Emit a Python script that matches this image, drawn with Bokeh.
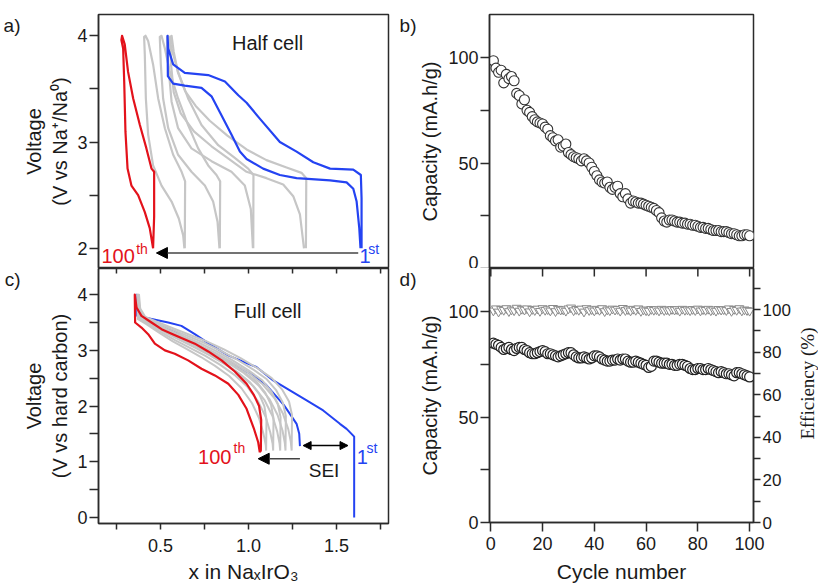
import math
from bokeh.plotting import figure
from bokeh.models import Range1d, LinearAxis, FixedTicker, Label, Arrow, NormalHead
from bokeh.layouts import row, column
from bokeh.embed import file_html
from bokeh.resources import INLINE

# ---------------- data ----------------
# Panel a: half cell, voltage vs x in NaxIrO3
a_blue_ch_x = [1.642, 1.642, 1.638, 1.595, 1.463, 1.368, 1.273, 1.178, 1.064, 0.989, 0.942, 0.866, 0.771, 0.638, 0.572, 0.544, 0.540]
a_blue_ch_v = [2.00, 2.47, 2.69, 2.74, 2.75, 2.81, 2.91, 3.00, 3.22, 3.37, 3.44, 3.57, 3.63, 3.65, 3.73, 3.88, 4.00]
a_blue_dis_x = [0.540, 0.542, 0.572, 0.638, 0.733, 0.790, 0.847, 0.903, 0.951, 0.989, 1.083, 1.178, 1.273, 1.463, 1.557, 1.595, 1.614, 1.629, 1.636]
a_blue_dis_v = [4.00, 3.62, 3.55, 3.53, 3.51, 3.43, 3.25, 3.07, 2.91, 2.84, 2.75, 2.69, 2.66, 2.64, 2.62, 2.56, 2.44, 2.19, 2.00]

a_red_ch_x = [0.458, 0.464, 0.464, 0.449, 0.420, 0.383, 0.345, 0.316, 0.297, 0.282]
a_red_ch_v = [2.00, 2.30, 2.72, 2.75, 2.94, 3.16, 3.41, 3.66, 3.92, 4.00]
a_red_dis_x = [0.282, 0.278, 0.288, 0.294, 0.301, 0.313, 0.335, 0.373, 0.411, 0.439, 0.458]
a_red_dis_v = [4.00, 3.96, 3.88, 3.57, 3.10, 2.75, 2.59, 2.50, 2.34, 2.19, 2.00]

a_g1_x = [0.638, 0.640, 0.620, 0.572, 0.525, 0.487, 0.458, 0.430, 0.415, 0.407, 0.411, 0.417, 0.430, 0.458, 0.506, 0.563, 0.604, 0.629, 0.636]
a_g1_v = [2.00, 2.63, 2.72, 2.88, 3.13, 3.41, 3.73, 3.95, 4.00, 3.99, 3.82, 3.41, 3.07, 2.78, 2.59, 2.44, 2.28, 2.12, 2.00]
a_g2_x = [0.837, 0.839, 0.818, 0.771, 0.714, 0.657, 0.600, 0.553, 0.525, 0.506, 0.496, 0.502, 0.515, 0.544, 0.600, 0.676, 0.752, 0.799, 0.824, 0.835]
a_g2_v = [2.00, 2.63, 2.69, 2.78, 2.94, 3.16, 3.41, 3.66, 3.88, 4.00, 3.99, 3.73, 3.41, 3.13, 2.88, 2.72, 2.59, 2.44, 2.25, 2.00]
a_g3_x = [1.027, 1.028, 0.998, 0.922, 0.828, 0.733, 0.657, 0.600, 0.563, 0.544, 0.538, 0.544, 0.563, 0.600, 0.676, 0.790, 0.903, 0.979, 1.013, 1.025]
a_g3_v = [2.00, 2.69, 2.75, 2.85, 2.97, 3.16, 3.41, 3.66, 3.88, 4.00, 3.99, 3.73, 3.38, 3.13, 2.94, 2.82, 2.72, 2.59, 2.37, 2.00]
a_g4_x = [1.326, 1.328, 1.301, 1.216, 1.102, 0.989, 0.880, 0.780, 0.700, 0.640, 0.600, 0.575, 0.563, 0.555, 0.560, 0.575, 0.615, 0.690, 0.790, 0.890, 0.989, 1.102, 1.197, 1.254, 1.292, 1.315]
a_g4_v = [2.00, 2.66, 2.71, 2.76, 2.83, 2.93, 3.06, 3.20, 3.34, 3.48, 3.65, 3.85, 4.00, 3.99, 3.73, 3.47, 3.27, 3.10, 2.96, 2.84, 2.72, 2.66, 2.60, 2.49, 2.32, 2.00]

# Panel c: full cell
c_blue_ch_x = [1.600, 1.600, 1.585, 1.557, 1.519, 1.424, 1.330, 1.235, 1.140, 1.045, 0.989, 0.885, 0.790, 0.695, 0.619, 0.544, 0.470, 0.411, 0.373, 0.364]
c_blue_ch_v = [0.00, 1.45, 1.50, 1.59, 1.68, 1.92, 2.10, 2.28, 2.46, 2.70, 2.77, 2.91, 3.09, 3.29, 3.44, 3.50, 3.55, 3.59, 3.71, 4.00]
c_blue_dis_x = [0.364, 0.368, 0.400, 0.460, 0.540, 0.620, 0.720, 0.820, 0.920, 1.000, 1.060, 1.100, 1.150, 1.200, 1.235, 1.273, 1.288, 1.292]
c_blue_dis_v = [4.00, 3.62, 3.57, 3.50, 3.40, 3.26, 3.08, 2.92, 2.74, 2.60, 2.48, 2.38, 2.20, 2.02, 1.86, 1.68, 1.50, 1.28]

c_red_ch_x = [1.064, 1.070, 1.072, 1.060, 1.030, 0.989, 0.922, 0.847, 0.771, 0.695, 0.619, 0.563, 0.506, 0.449, 0.392, 0.364, 0.354]
c_red_ch_v = [1.17, 1.20, 1.75, 2.00, 2.20, 2.40, 2.62, 2.82, 2.98, 3.12, 3.22, 3.30, 3.38, 3.50, 3.62, 3.77, 4.00]
c_red_dis_x = [0.354, 0.356, 0.392, 0.430, 0.468, 0.525, 0.581, 0.657, 0.733, 0.809, 0.885, 0.942, 0.989, 1.030, 1.055, 1.064]
c_red_dis_v = [4.00, 3.50, 3.41, 3.29, 3.12, 3.00, 2.94, 2.82, 2.67, 2.55, 2.40, 2.20, 1.95, 1.60, 1.35, 1.17]

c_g1_x = [1.100, 1.102, 1.090, 1.060, 1.010, 0.940, 0.860, 0.780, 0.700, 0.620, 0.540, 0.460, 0.400, 0.375, 0.368,
          0.372, 0.420, 0.490, 0.570, 0.650, 0.730, 0.810, 0.890, 0.960, 1.020, 1.060, 1.085, 1.098, 1.100]
c_g1_v = [1.20, 1.75, 2.00, 2.22, 2.42, 2.60, 2.78, 2.94, 3.08, 3.20, 3.32, 3.45, 3.56, 3.70, 4.00,
          3.56, 3.47, 3.32, 3.16, 3.02, 2.88, 2.72, 2.54, 2.32, 2.05, 1.78, 1.50, 1.30, 1.20]
c_g2_x = [1.140, 1.142, 1.128, 1.095, 1.045, 0.970, 0.885, 0.800, 0.715, 0.630, 0.545, 0.465, 0.405, 0.378, 0.370,
          0.375, 0.425, 0.500, 0.585, 0.670, 0.755, 0.840, 0.920, 0.995, 1.055, 1.098, 1.124, 1.137, 1.140]
c_g2_v = [1.20, 1.78, 2.02, 2.24, 2.44, 2.62, 2.80, 2.96, 3.10, 3.22, 3.34, 3.46, 3.57, 3.72, 4.00,
          3.57, 3.48, 3.33, 3.18, 3.04, 2.90, 2.74, 2.56, 2.34, 2.08, 1.80, 1.52, 1.32, 1.20]
c_g3_x = [1.180, 1.182, 1.166, 1.130, 1.078, 1.000, 0.910, 0.820, 0.730, 0.640, 0.552, 0.470, 0.408, 0.380, 0.372,
          0.378, 0.430, 0.510, 0.600, 0.690, 0.780, 0.865, 0.950, 1.030, 1.092, 1.136, 1.163, 1.176, 1.180]
c_g3_v = [1.20, 1.80, 2.04, 2.26, 2.46, 2.64, 2.82, 2.98, 3.12, 3.24, 3.36, 3.48, 3.58, 3.73, 4.00,
          3.58, 3.49, 3.35, 3.20, 3.06, 2.91, 2.75, 2.57, 2.35, 2.10, 1.82, 1.54, 1.33, 1.20]
c_g4_x = [1.210, 1.212, 1.195, 1.158, 1.104, 1.025, 0.932, 0.838, 0.745, 0.652, 0.560, 0.475, 0.410, 0.382, 0.375,
          0.380, 0.435, 0.520, 0.612, 0.705, 0.798, 0.886, 0.975, 1.057, 1.120, 1.165, 1.193, 1.206, 1.210]
c_g4_v = [1.20, 1.82, 2.06, 2.28, 2.48, 2.66, 2.84, 3.00, 3.14, 3.26, 3.38, 3.50, 3.59, 3.74, 4.00,
          3.59, 3.50, 3.36, 3.22, 3.08, 2.93, 2.77, 2.59, 2.37, 2.12, 1.84, 1.56, 1.34, 1.20]
c_g5_x = [1.245, 1.247, 1.230, 1.190, 1.132, 1.050, 0.955, 0.858, 0.762, 0.665, 0.570, 0.482, 0.414, 0.385, 0.378,
          0.383, 0.440, 0.530, 0.625, 0.720, 0.815, 0.905, 0.995, 1.080, 1.148, 1.196, 1.226, 1.240, 1.245]
c_g5_v = [1.20, 1.84, 2.08, 2.30, 2.50, 2.68, 2.86, 3.02, 3.16, 3.28, 3.40, 3.51, 3.60, 3.75, 4.00,
          3.60, 3.51, 3.38, 3.24, 3.10, 2.95, 2.79, 2.61, 2.39, 2.14, 1.86, 1.58, 1.36, 1.20]

# Panel b: half-cell capacity vs cycle
cycles = list(range(1, 101))
b_capacity = [98.5, 95, 93, 94, 88, 92, 90, 91, 89, 83,
              82, 78, 80, 75, 74, 72, 70.5, 69.5, 69, 68.5,
              67, 66, 63, 62, 60.5, 61, 57.5, 58, 59, 55,
              54, 53, 52.5, 52, 51, 52, 51, 50, 48, 46,
              44, 42, 41, 40.5, 41, 38.5, 37.5, 38.5, 39, 35.5,
              34, 35.5, 33, 31, 32, 31.5, 31, 31, 30.5, 30,
              29.5, 29, 28.5, 27.5, 26.5, 24, 22.5, 22, 23, 23,
              22.5, 22, 22, 21.5, 21.5, 21, 21, 20.5, 20.5, 20,
              19.5, 19.5, 19, 19, 18.5, 18, 18, 18, 17.5, 17.5,
              17.5, 17, 16.5, 16.5, 16, 15.5, 15.5, 16, 16, 15.5]

# Panel d: full-cell capacity and efficiency vs cycle
d_capacity = [85, 84.5, 84, 83, 82, 82.5, 83, 82, 81.5, 82.5,
              83, 83, 82, 81.5, 80.5, 80, 80, 80.5, 81, 81.5,
              81, 80, 80, 79.5, 79, 78.5, 79, 79.5, 80, 80.5,
              80.5, 79.5, 78.5, 78, 78, 78.5, 78, 77.5, 78, 79,
              79, 78.5, 77.5, 77, 76.5, 76.5, 77, 77, 77.5, 77,
              77.5, 77.5, 76.5, 76, 76, 76.5, 76, 75.5, 75, 74.5,
              73.5, 74, 76.5, 76.5, 76, 75.5, 75.5, 75.5, 75, 75,
              74.5, 74.5, 75, 75, 74.5, 74, 73, 72.5, 72.5, 73,
              73, 72.5, 72.5, 73, 72.5, 72, 71.5, 71, 71.5, 71,
              70.5, 70.5, 70, 69.5, 71, 71, 70.5, 70, 69.5, 69]
d_efficiency = [99.5, 100.5, 99.0, 100.2, 99.8, 100.6, 99.2, 100.0, 99.6, 100.8,
                99.4, 100.3, 99.9, 100.5, 99.1, 100.2, 99.7, 100.4, 99.3, 100.6,
                99.8, 100.1, 99.5, 100.7, 99.2, 100.3, 99.9, 100.0, 99.4, 100.5,
                100.9, 99.6, 100.2, 99.8, 100.4, 99.0, 100.6, 99.7, 100.1, 99.5,
                100.3, 99.8, 100.6, 99.2, 100.0, 99.6, 100.4, 99.9, 100.2, 99.4,
                100.7, 99.7, 100.1, 99.5, 100.3, 99.8, 100.5, 99.3, 100.0, 99.6,
                99.4, 100.2, 99.8, 100.1, 99.5, 100.3, 99.7, 100.0, 99.6, 100.2,
                99.9, 100.1, 99.4, 100.3, 99.8, 100.0, 99.6, 100.2, 99.7, 100.4,
                99.5, 100.1, 99.8, 100.3, 99.6, 100.0, 99.4, 100.2, 99.9, 100.1,
                99.7, 100.5, 99.3, 100.2, 99.8, 100.6, 99.5, 100.0, 99.7, 99.4]

# ticks
a_yticks = [2, 3, 4]
a_yminor = [2.5, 3.5]
a_xticks = [0.25, 0.5, 0.75, 1.0, 1.25, 1.5, 1.75]
c_yticks = [0, 1, 2, 3, 4]
c_yminor = [0.5, 1.5, 2.5, 3.5, 4.5]
c_xticks = [0.5, 1.0, 1.5]
c_xtick_labels = ["0.5", "1.0", "1.5"]
c_xminor = [0.25, 0.75, 1.25, 1.75]
cap_ticks = [0, 50, 100]
cap_minor = [25, 75]
cyc_ticks = [0, 20, 40, 60, 80, 100]
eff_ticks = [0, 20, 40, 60, 80, 100]
eff_minor = [10, 30, 50, 70, 90, 110]

# ---------------- style ----------------
FONT = "Liberation Sans"
SERIF = "Liberation Serif"
AXC = "#2b2b2b"
TXT = "#1a1a1a"
RED = "#e3121b"
BLUE = "#2443f2"
GRAY = "#c6c6c6"
TICK_FS = "18px"
TITLE_FS = "20px"

AXIS_PROPS = LinearAxis().properties()


def make_fig(xr, yr, fw, fh, ml, mr, mt, mb):
    p = figure(x_range=xr, y_range=yr, frame_width=fw, frame_height=fh,
               min_border_left=ml, min_border_right=mr, min_border_top=mt, min_border_bottom=mb,
               x_axis_location=None, y_axis_location=None,
               output_backend="svg", toolbar_location=None, tools="")
    p.grid.visible = False
    p.outline_line_color = AXC
    p.outline_line_width = 1.5
    p.outline_line_alpha = 1.0
    p.background_fill_color = "white"
    p.border_fill_color = "white"
    return p


def style(ax, ticks, minor, tick_len=9, standoff=2, fs=TICK_FS):
    ax.ticker = FixedTicker(ticks=ticks, minor_ticks=minor)
    ax.axis_line_color = AXC
    ax.axis_line_width = 1.5
    ax.major_tick_line_color = AXC
    ax.minor_tick_line_color = AXC
    ax.major_tick_line_width = 1.5
    ax.minor_tick_line_width = 1.5
    ax.major_tick_in = 0
    ax.major_tick_out = tick_len
    ax.minor_tick_in = 0
    ax.minor_tick_out = tick_len
    ax.major_label_text_font = FONT
    ax.major_label_text_color = TXT
    ax.major_label_text_font_size = fs
    ax.major_label_standoff = standoff
    ax.axis_label_text_font = FONT
    ax.axis_label_text_font_size = TITLE_FS
    ax.axis_label_text_font_style = "normal"
    ax.axis_label_text_color = TXT
    ax.axis_label_text_line_height = 1.2


def bare_axis(text, size, font=FONT):
    ax = LinearAxis(axis_label=text)
    ax.ticker = FixedTicker(ticks=[], minor_ticks=[])
    ax.axis_line_color = None
    ax.major_tick_line_color = None
    ax.minor_tick_line_color = None
    ax.major_tick_out = 0
    ax.minor_tick_out = 0
    ax.major_label_standoff = 0
    ax.axis_label_standoff = 0
    ax.axis_label_text_font = font
    ax.axis_label_text_font_size = size
    ax.axis_label_text_font_style = "normal"
    ax.axis_label_text_color = TXT
    return ax


def letter_axis(p, text):
    # panel letter, written horizontally at the top end of an empty outer axis
    ax = bare_axis("\n" + text, "19px")
    ax.axis_label_text_line_height = 1.0
    if "axis_label_orientation" in AXIS_PROPS:
        ax.axis_label_orientation = "horizontal"
    if "axis_label_align" in AXIS_PROPS:
        ax.axis_label_align = "end"
    p.add_layout(ax, "left")


def inner_ticks(p, xs, half_len):
    # short tick marks pointing down from the top edge of the frame
    p.scatter(xs, [p.y_range.end] * len(xs), marker="dash", angle=math.pi / 2, size=2 * half_len,
              line_color=AXC, line_width=1.5)


def label(p, x, y, text, size, color=TXT, align="left", baseline="alphabetic", font=FONT):
    p.add_layout(Label(x=x, y=y, text=text, text_font_size=size, text_color=color, text_align=align,
                       text_baseline=baseline, text_font=font))


# ---------------- panel a ----------------
pa = make_fig(Range1d(0.148, 1.795), Range1d(1.81, 4.2), 290, 254, 97, 5, 14, 0)
ya = LinearAxis(axis_label="Voltage\n(V vs Na\u207a/Na\u2070)")
style(ya, a_yticks, a_yminor)
ya.axis_label_standoff = 3
pa.add_layout(ya, "left")
letter_axis(pa, "a)")

for gx, gv in [(a_g1_x, a_g1_v), (a_g2_x, a_g2_v), (a_g3_x, a_g3_v), (a_g4_x, a_g4_v)]:
    pa.line(gx, gv, line_color=GRAY, line_width=2.2, line_join="round")
pa.line(a_blue_ch_x + a_blue_dis_x, a_blue_ch_v + a_blue_dis_v, line_color=BLUE, line_width=2.2, line_join="round")
pa.line(a_red_ch_x + a_red_dis_x, a_red_ch_v + a_red_dis_v, line_color=RED, line_width=2.2, line_join="round")

pa.add_layout(Arrow(end=NormalHead(size=11, fill_color="black", line_color="black"),
                    x_start=1.623, y_start=1.956, x_end=0.477, y_end=1.956,
                    line_color="#444444", line_width=1.6))
label(pa, 1.108, 3.934, "Half cell", "20px", align="center", baseline="middle")
label(pa, 0.165, 1.925, "100", "20px", color=RED)
label(pa, 0.362, 1.995, "th", "14px", color=RED)
label(pa, 1.631, 1.925, "1", "20px", color=BLUE)
label(pa, 1.680, 1.995, "st", "14px", color=BLUE)

# ---------------- panel c ----------------
pc = make_fig(pa.x_range, Range1d(-0.11, 4.47), 290, 255, 97, 5, 0, 60)
yc = LinearAxis(axis_label="Voltage\n(V vs hard carbon)")
style(yc, c_yticks, c_yminor)
yc.axis_label_standoff = 3
pc.add_layout(yc, "left")
letter_axis(pc, "c)")
xc = LinearAxis(axis_label="x in Na\u2093IrO\u2083")
style(xc, c_xticks, c_xminor, tick_len=6, standoff=9)
xc.major_label_overrides = dict(zip(c_xticks, c_xtick_labels))
xc.axis_label_standoff = 5
xc.axis_label_text_font_size = "21px"
pc.add_layout(xc, "below")
inner_ticks(pc, a_xticks, 5)

pc.line(c_blue_ch_x + c_blue_dis_x, c_blue_ch_v + c_blue_dis_v, line_color=BLUE, line_width=2.0, line_join="round")
for gx, gv in [(c_g1_x, c_g1_v), (c_g2_x, c_g2_v), (c_g3_x, c_g3_v), (c_g4_x, c_g4_v), (c_g5_x, c_g5_v)]:
    pc.line(gx, gv, line_color=GRAY, line_width=2.0, line_join="round")
pc.line(c_red_ch_x + c_red_dis_x, c_red_ch_v + c_red_dis_v, line_color=RED, line_width=2.2, line_join="round")

pc.add_layout(Arrow(end=NormalHead(size=11, fill_color="black", line_color="black"),
                    x_start=1.292, y_start=1.053, x_end=1.055, y_end=1.053,
                    line_color="#444444", line_width=1.6))
pc.add_layout(Arrow(start=NormalHead(size=8, fill_color="black", line_color="black"),
                    end=NormalHead(size=8, fill_color="black", line_color="black"),
                    x_start=1.31, y_start=1.29, x_end=1.565, y_end=1.29,
                    line_color="black", line_width=1.4))
label(pc, 1.108, 3.713, "Full cell", "20px", align="center", baseline="middle")
label(pc, 0.903, 1.076, "100", "20px", color=RED, align="right")
label(pc, 0.915, 1.238, "th", "14px", color=RED)
label(pc, 1.614, 1.076, "1", "20px", color=BLUE)
label(pc, 1.670, 1.238, "st", "14px", color=BLUE)
label(pc, 1.429, 0.843, "SEI", "19px", align="center")

# ---------------- panel b ----------------
pb = make_fig(Range1d(-0.5, 101.5), Range1d(0, 120.4), 264, 254, 96, 40, 14, 0)
yb = LinearAxis(axis_label="Capacity (mA.h/g)")
style(yb, cap_ticks, cap_minor)
yb.axis_label_standoff = 4
pb.add_layout(yb, "left")
letter_axis(pb, "b)")
pb.scatter(cycles, b_capacity, marker="circle", size=10, fill_color="white", line_color="#333333", line_width=1.1)

# ---------------- panel d ----------------
pd = make_fig(pb.x_range, Range1d(0, 120.4), 264, 254, 96, 40, 0, 60)
pd.extra_y_ranges = {"eff": Range1d(0, 119.3)}
yd = LinearAxis(axis_label="Capacity (mA.h/g)")
style(yd, cap_ticks, cap_minor)
yd.axis_label_standoff = 4
pd.add_layout(yd, "left")
letter_axis(pd, "d)")
yr = LinearAxis(y_range_name="eff")
style(yr, eff_ticks, eff_minor, tick_len=7, standoff=2, fs="17px")
pd.add_layout(yr, "right")
xd = LinearAxis(axis_label="Cycle number")
style(xd, cyc_ticks, [], tick_len=9, standoff=5)
xd.axis_label_standoff = 7
xd.axis_label_text_font_size = "21px"
pd.add_layout(xd, "below")
inner_ticks(pd, cyc_ticks, 8)

pd.scatter(cycles, d_efficiency, marker="inverted_triangle", size=9, fill_color="white",
           line_color="#8a8a8a", line_width=1.0, y_range_name="eff")
pd.scatter(cycles, d_capacity, marker="circle", size=10, fill_color="white", line_color="#222222", line_width=1.2)

# title of the efficiency axis, on a narrow strip right of panel d (reads bottom to top)
pe = figure(x_range=Range1d(0, 1), y_range=Range1d(0, 1), frame_width=1, frame_height=230,
            min_border_left=0, min_border_right=0, min_border_top=268, min_border_bottom=0,
            x_axis_location=None, y_axis_location=None,
            output_backend="svg", toolbar_location=None, tools="")
pe.grid.visible = False
pe.outline_line_color = None
pe.border_fill_color = "white"
pe.background_fill_color = "white"
pe.add_layout(bare_axis("Efficiency (%)", "19px", font=SERIF), "left")

layout = row(column(pa, pc), column(pb, pd), pe)
open("out.html", "w").write(file_html(layout, INLINE))
